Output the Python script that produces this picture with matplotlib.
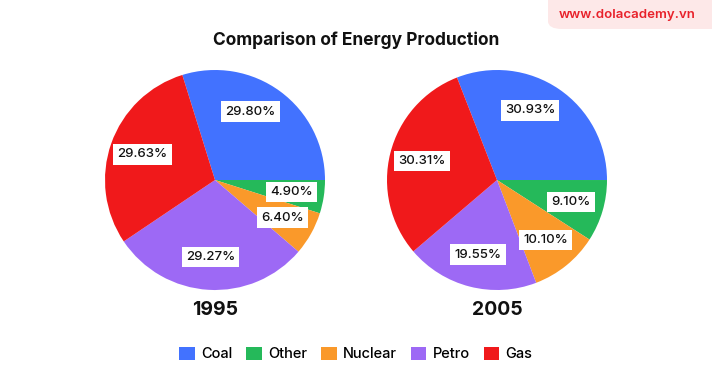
import matplotlib
matplotlib.use('Agg')
import matplotlib.pyplot as plt
import numpy as np
from matplotlib.patches import Patch, FancyBboxPatch

plt.rcParams['font.family'] = ['Inter', 'DejaVu Sans']

categories = ['Coal', 'Other', 'Nuclear', 'Petro', 'Gas']
years = ['1995', '2005']
share_1995 = [29.80, 4.90, 6.40, 29.27, 29.63]
share_2005 = [30.93, 9.10, 10.10, 19.55, 30.31]
colors = ['#4272FF', '#25B95A', '#FA992A', '#9D69F5', '#F0191B']

W, H = 712, 389
fig = plt.figure(figsize=(W / 100, H / 100), dpi=100)

# watermark badge (top right)
fig.patches.append(FancyBboxPatch((548 / W, 1 - 29 / H), 180 / W, 45 / H,
                                  boxstyle='round,pad=0,rounding_size=0.02',
                                  transform=fig.transFigure, fc='#FDE8E8', ec='none'))
fig.text(627 / W, 1 - 15 / H, 'www.dolacademy.vn', ha='center', va='center',
         fontsize=9.5, fontweight='semibold', color='#E8222B')

fig.text(356 / W, 1 - 40 / H, 'Comparison of Energy Production', ha='center',
         va='center', fontsize=12.5, fontweight='bold', color='#111111')

centers = [(215, 180), (497, 180)]
radius = 110
for (cx, cy), yr, vals in zip(centers, years, [share_1995, share_2005]):
    ax = fig.add_axes([(cx - radius) / W, (H - cy - radius) / H, 2 * radius / W, 2 * radius / H])
    wedges, _ = ax.pie(vals, colors=colors, startangle=vals[0] * 3.6,
                       counterclock=False, radius=1)
    for i, (w, v) in enumerate(zip(wedges, vals)):
        ang = np.deg2rad((w.theta1 + w.theta2) / 2 + (9 if i == 0 else 0))
        ax.text(0.7 * np.cos(ang), 0.7 * np.sin(ang), '%.2f%%' % v,
                ha='center', va='center', fontsize=9.5, fontweight='medium',
                color='#111111',
                bbox=dict(boxstyle='square,pad=0.32', fc='white', ec='none'))
    ax.set_xlim(-1, 1)
    ax.set_ylim(-1, 1)
    ax.set_aspect('equal')
    ax.axis('off')
    fig.text(cx / W, 1 - 310 / H, yr, ha='center', va='center',
             fontsize=14, fontweight='bold', color='#111111')

handles = [Patch(facecolor=c, edgecolor='none') for c in colors]
fig.legend(handles, categories, loc='center', bbox_to_anchor=(356 / W, 1 - 354 / H),
           ncol=5, frameon=False, handlelength=1.05, handleheight=1.05,
           handletextpad=0.45, columnspacing=0.95,
           prop={'size': 10.5, 'weight': 'medium'})

fig.savefig('out.png', dpi=100)
